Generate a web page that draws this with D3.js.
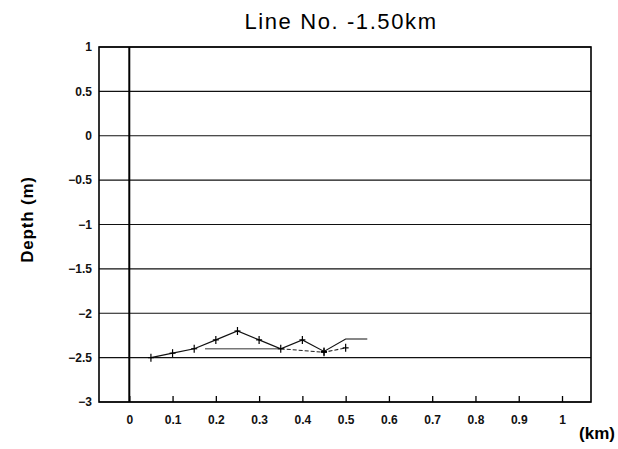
<!DOCTYPE html>
<html>
<head>
<meta charset="utf-8">
<script src="https://cdn.jsdelivr.net/npm/d3@7"></script>
<style>
  body { margin: 0; background: #fff; }
  svg { font-family: "Liberation Sans", Arial, sans-serif; }
</style>
</head>
<body>
<div id="chart"></div>
<script>
var svgWidth = 618;
var svgHeight = 449;

var margin = { top: 47, right: 27, bottom: 47, left: 99 };
var width = svgWidth - margin.left - margin.right;
var height = svgHeight - margin.top - margin.bottom;

// data
var xTicks = [0, 0.1, 0.2, 0.3, 0.4, 0.5, 0.6, 0.7, 0.8, 0.9, 1];
var yTicks = [1, 0.5, 0, -0.5, -1, -1.5, -2, -2.5, -3];
var profileX = [0.05, 0.1, 0.15, 0.2, 0.25, 0.3, 0.35, 0.4, 0.45, 0.5, 0.55];
var profileY = [-2.5, -2.45, -2.4, -2.3, -2.2, -2.3, -2.4, -2.3, -2.43, -2.29, -2.29];
var profileMarked = [true, true, true, true, true, true, true, true, true, false, false];
var greyX = [0.175, 0.35];
var greyY = [-2.4, -2.4];
var dashX = [0.35, 0.45, 0.5];
var dashY = [-2.4, -2.44, -2.39];
var dashMarked = [false, true, true];

var svg = d3.select("#chart")
  .append("svg")
  .attr("width", svgWidth)
  .attr("height", svgHeight);

var chartGroup = svg.append("g")
  .attr("transform", `translate(${margin.left}, ${margin.top})`);

var x = d3.scaleLinear().domain([-0.07, 1.067]).range([0, width]);
var y = d3.scaleLinear().domain([-3, 1]).range([height, 0]);

// horizontal grid lines
chartGroup.selectAll(".hgrid")
  .data(yTicks)
  .enter()
  .append("line")
  .attr("x1", 0)
  .attr("x2", width)
  .attr("y1", d => y(d))
  .attr("y2", d => y(d))
  .attr("stroke", "#111")
  .attr("stroke-width", 1.1);

// frame
chartGroup.append("rect")
  .attr("width", width)
  .attr("height", height)
  .attr("fill", "none")
  .attr("stroke", "#000")
  .attr("stroke-width", 1.6);

// zero line
chartGroup.append("line")
  .attr("x1", x(0)).attr("x2", x(0))
  .attr("y1", 0).attr("y2", height)
  .attr("stroke", "#000")
  .attr("stroke-width", 2);

// x axis, ticks pointing inward
var xAxis = d3.axisBottom(x).tickValues(xTicks).tickSize(-6).tickPadding(13)
  .tickFormat(d => d === 0 ? "0" : d3.format("~g")(d));
var xg = chartGroup.append("g")
  .attr("transform", `translate(0,${height})`)
  .call(xAxis);
xg.select(".domain").remove();
xg.selectAll(".tick line").attr("stroke", "#000").attr("stroke-width", 1.3);
xg.selectAll("text").attr("font-size", 12).attr("font-weight", "bold").attr("fill", "#111");

// y axis labels
var yAxis = d3.axisLeft(y).tickValues(yTicks).tickSize(0).tickPadding(7)
  .tickFormat(d => d3.format("~g")(d).replace("-", "\u2212"));
var yg = chartGroup.append("g").call(yAxis);
yg.select(".domain").remove();
yg.selectAll("text").attr("font-size", 12).attr("font-weight", "bold").attr("fill", "#111");

var lineFn = d3.line().x(d => x(d[0])).y(d => y(d[1]));

var profile = profileX.map((v, i) => [v, profileY[i], profileMarked[i]]);
var grey = greyX.map((v, i) => [v, greyY[i]]);
var dash = dashX.map((v, i) => [v, dashY[i], dashMarked[i]]);

chartGroup.append("path")
  .datum(grey)
  .attr("d", lineFn)
  .attr("fill", "none")
  .attr("stroke", "#777")
  .attr("stroke-width", 1.6);

chartGroup.append("path")
  .datum(dash)
  .attr("d", lineFn)
  .attr("fill", "none")
  .attr("stroke", "#222")
  .attr("stroke-width", 1.1)
  .attr("stroke-dasharray", "4,2");

chartGroup.append("path")
  .datum(profile)
  .attr("d", lineFn)
  .attr("fill", "none")
  .attr("stroke", "#111")
  .attr("stroke-width", 1.2);

// plus markers
var marks = profile.concat(dash).filter(d => d[2]);
var plus = chartGroup.selectAll(".plus")
  .data(marks)
  .enter()
  .append("g")
  .attr("transform", d => `translate(${x(d[0])},${y(d[1])})`);
plus.append("line").attr("x1", -3).attr("x2", 3).attr("stroke", "#000").attr("stroke-width", 1.2);
plus.append("line").attr("y1", -4).attr("y2", 4).attr("stroke", "#000").attr("stroke-width", 1.2);

// title and labels
svg.append("text")
  .attr("x", 341)
  .attr("y", 29)
  .attr("text-anchor", "middle")
  .attr("font-size", 22)
  .attr("letter-spacing", 1.6)
  .attr("fill", "#000")
  .text("Line No. -1.50km");

svg.append("text")
  .attr("transform", `translate(33,${margin.top + height / 2 - 5}) rotate(-90)`)
  .attr("text-anchor", "middle")
  .attr("font-size", 17)
  .attr("font-weight", "bold")
  .attr("letter-spacing", 0.8)
  .text("Depth (m)");

svg.append("text")
  .attr("x", 597)
  .attr("y", 439)
  .attr("text-anchor", "middle")
  .attr("font-size", 17)
  .attr("font-weight", "bold")
  .text("(km)");
</script>
</body>
</html>
